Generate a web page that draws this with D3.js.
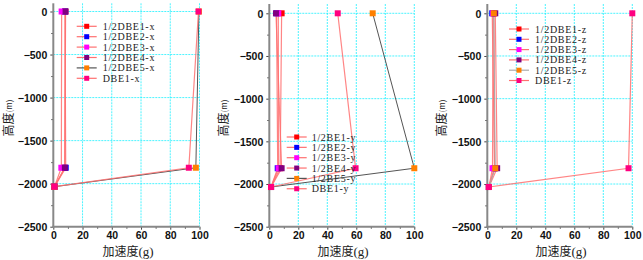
<!DOCTYPE html>
<html><head><meta charset="utf-8">
<script src="https://cdn.jsdelivr.net/npm/d3@7"></script>
<style>body{margin:0;background:#fff;} svg{display:block}</style>
</head><body><svg id="c" width="643" height="260"></svg>
<script>
// ---------- data ----------
const depths = [0, -1815, -2035];

const namesX = ["1/2DBE1-x", "1/2DBE2-x", "1/2DBE3-x", "1/2DBE4-x", "1/2DBE5-x", "DBE1-x"];
const valuesX = [
  [8.2, 7.8, 0.8],
  [8.0, 8.5, 0.8],
  [5.7, 5.5, 0.8],
  [8.4, 7.9, 0.8],
  [99.6, 97.5, 0.8],
  [99.3, 92.7, 0.8]
];

const namesY = ["1/2BE1-y", "1/2BE2-y", "1/2BE3-y", "1/2BE4-y", "1/2BE5-y", "DBE1-y"];
const valuesY = [
  [8.5, 7.5, 1.2],
  [5.0, 5.8, 1.2],
  [6.2, 6.4, 1.2],
  [4.6, 8.5, 1.2],
  [71.3, 100, 1.2],
  [47.2, 59.5, 1.2]
];

const namesZ = ["1/2DBE1-z", "1/2DBE2-z", "1/2DBE3-z", "1/2DBE4-z", "1/2DBE5-z", "DBE1-z"];
const valuesZ = [
  [4.5, 5.0, 1.1],
  [3.4, 5.0, 1.1],
  [4.0, 3.6, 1.1],
  [5.5, 6.8, 1.1],
  [4.5, 5.5, 1.1],
  [100, 97.4, 1.1]
];

const xTicks = [0, 20, 40, 60, 80, 100];
const yTicks = [0, -500, -1000, -1500, -2000, -2500];
const xLabel = "加速度";
const yLabel = "高度";

// ---------- styles ----------
const markerColors = ["#ff0000", "#0000ff", "#ff00ff", "#800080", "#ff8000", "#ff0080"];
const lineColors = ["#ff7070", "#ff7070", "#ff7070", "#ff7070", "#555555", "#ff7070"];

const panels = [
  {names: namesX, values: valuesX, x0: 53.3, x1: 199.5, yTop: 11.5, yBot: 226.7, axTop: 3.3,
   leg: {x: 76.7, y: 26.3, dy: 10.4, tx: 102.7}, ylab: 7, xlab: 128, line5: "#555"},
  {names: namesY, values: valuesY, x0: 269.3, x1: 414.3, yTop: 13.3, yBot: 226.7, axTop: 4,
   leg: {x: 286.7, y: 137, dy: 10.35, tx: 311.7}, ylab: 222.5, xlab: 343, line5: "#555"},
  {names: namesZ, values: valuesZ, x0: 487.3, x1: 632.3, yTop: 13.3, yBot: 226.7, axTop: 4,
   leg: {x: 509, y: 29, dy: 10.3, tx: 535}, ylab: 440.5, xlab: 561, line5: "#aaa"}
];

const svg = d3.select("#c");

panels.forEach(p => {
  const x = d3.scaleLinear().domain([0, 100]).range([p.x0, p.x1]);
  const y = d3.scaleLinear().domain([-2500, 0]).range([p.yBot, p.yTop]);
  const g = svg.append("g");

  // grid
  g.selectAll(".gx").data(xTicks.filter(d => d > 0)).enter().append("line")
    .attr("x1", d => x(d)).attr("x2", d => x(d))
    .attr("y1", p.axTop).attr("y2", p.yBot)
    .attr("stroke", "#00f0ff").attr("stroke-width", 1).attr("stroke-dasharray", "2,1").attr("opacity", 0.7);
  g.selectAll(".gy").data(yTicks.filter(d => d > -2500)).enter().append("line")
    .attr("x1", p.x0).attr("x2", p.x1)
    .attr("y1", d => y(d)).attr("y2", d => y(d))
    .attr("stroke", "#00f0ff").attr("stroke-width", 1).attr("stroke-dasharray", "2,1").attr("opacity", 0.7);

  // axes
  const xAxis = d3.axisBottom(x).tickValues(xTicks).tickSize(3).tickPadding(1.5).tickFormat(d3.format("d"));
  const xMinor = d3.axisBottom(x).tickValues(d3.range(10, 100, 20)).tickSize(2).tickFormat("");
  const yAxis = d3.axisLeft(y).tickValues(yTicks).tickSize(3).tickPadding(3).tickFormat(d3.format("d"));
  const yMinor = d3.axisLeft(y).tickValues(d3.range(-2250, 0, 500)).tickSize(2).tickFormat("");

  const gx = g.append("g").attr("transform", `translate(0,${p.yBot})`).call(xAxis);
  const gxm = g.append("g").attr("transform", `translate(0,${p.yBot})`).call(xMinor);
  const gy = g.append("g").attr("transform", `translate(${p.x0},0)`).call(yAxis);
  const gym = g.append("g").attr("transform", `translate(${p.x0},0)`).call(yMinor);
  [gx, gxm, gy, gym].forEach(a => {
    a.select(".domain").remove();
    a.selectAll(".tick line").attr("stroke", "#444").attr("stroke-width", 1);
    a.selectAll("text").attr("font-family", "Liberation Sans, Arial, sans-serif")
      .attr("font-size", 10.5).attr("fill", "#111").attr("font-weight", "bold");
  });
  gy.selectAll("text").attr("dy", "0.36em");
  // axis lines
  g.append("line").attr("x1", p.x0).attr("x2", p.x0).attr("y1", p.axTop).attr("y2", p.yBot + 1)
    .attr("stroke", "#888").attr("stroke-width", 2);
  g.append("line").attr("x1", p.x0 - 1).attr("x2", p.x1).attr("y1", p.yBot).attr("y2", p.yBot)
    .attr("stroke", "#888").attr("stroke-width", 2);

  // series lines
  const line = d3.line().x(d => x(d[0])).y(d => y(d[1]));
  p.values.forEach((vals, i) => {
    const pts = vals.map((v, k) => [v, depths[k]]);
    g.append("path").attr("d", line(pts)).attr("fill", "none")
      .attr("stroke", i === 4 ? p.line5 : lineColors[i])
      .attr("stroke-width", i === 4 ? 1 : 1.2).attr("opacity", i === 4 ? 1 : 0.85);
  });
  // markers
  p.values.forEach((vals, i) => {
    g.selectAll(null).data(vals.map((v, k) => [v, depths[k]])).enter().append("rect")
      .attr("x", d => x(d[0]) - 3).attr("y", d => y(d[1]) - 3)
      .attr("width", 6).attr("height", 6)
      .attr("fill", markerColors[i]);
  });

  // legend
  p.names.forEach((n, i) => {
    const ly = p.leg.y + i * p.leg.dy;
    g.append("line").attr("x1", p.leg.x).attr("x2", p.leg.x + 20).attr("y1", ly).attr("y2", ly)
      .attr("stroke", i === 4 ? p.line5 : lineColors[i]).attr("stroke-width", 1.2);
    g.append("rect").attr("x", p.leg.x + 10 - 2.5).attr("y", ly - 2.5).attr("width", 5).attr("height", 5)
      .attr("fill", markerColors[i]);
    g.append("text").attr("x", p.leg.tx).attr("y", ly).attr("dy", "0.35em")
      .attr("font-family", "Liberation Serif, serif").attr("font-size", 10).attr("fill", "#222")
      .attr("letter-spacing", 0.7)
      .text(n);
  });

  // axis titles
  const xt = g.append("text").attr("x", p.xlab).attr("y", 256).attr("text-anchor", "middle")
    .attr("font-family", "Noto Sans CJK SC, sans-serif").attr("font-size", 12).attr("fill", "#222");
  xt.append("tspan").text(xLabel);
  xt.append("tspan").attr("font-family", "Liberation Serif, serif").attr("font-size", 13).text("(g)");
  const yt = g.append("text").attr("transform", `translate(${p.ylab + 5.5},118) rotate(-90)`)
    .attr("text-anchor", "middle")
    .attr("font-family", "Noto Sans CJK SC, sans-serif").attr("font-size", 12).attr("fill", "#222");
  yt.append("tspan").text(yLabel);
  yt.append("tspan").attr("font-size", 8).attr("dy", -1).text("(m)");
});
</script></body></html>
